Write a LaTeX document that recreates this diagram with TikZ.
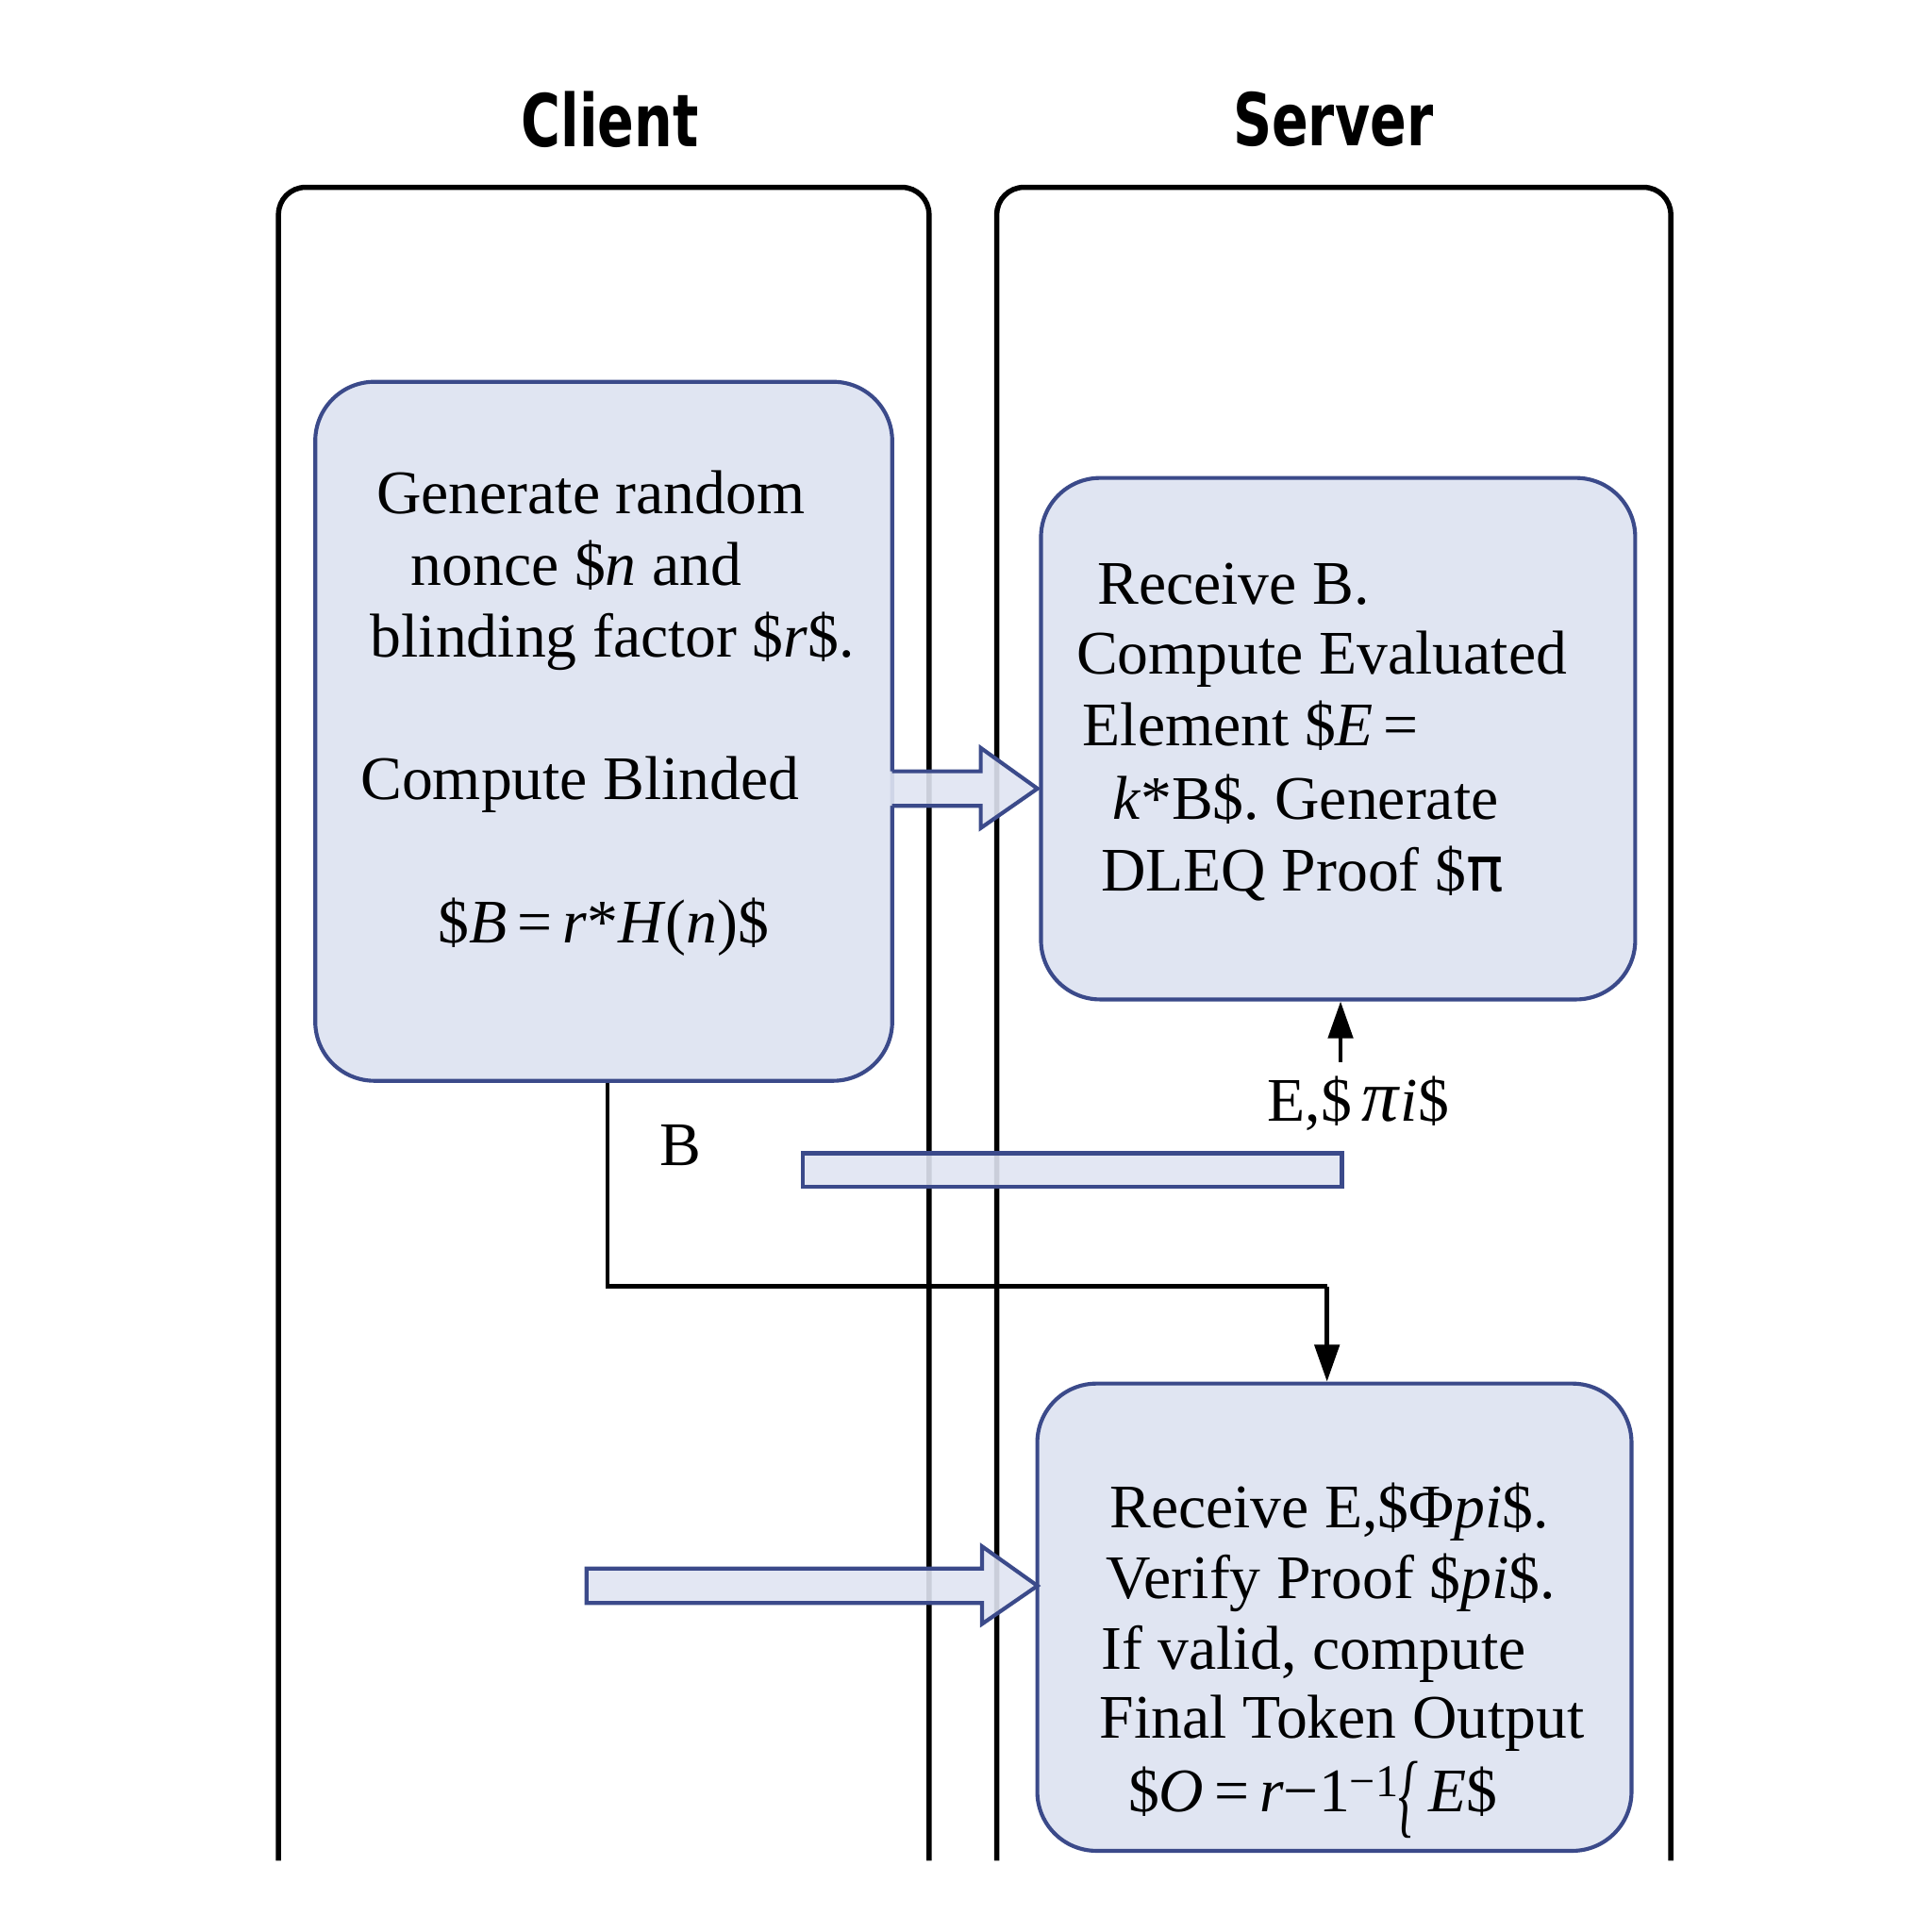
\documentclass[tikz,border=0pt]{standalone}
\usepackage{fontspec}
\usepackage{graphicx}
\setmainfont{Liberation Serif}
\newfontfamily\titlefont{DejaVu Sans}
\usetikzlibrary{arrows.meta}
\definecolor{boxfill}{HTML}{E0E5F2}
\definecolor{boxline}{HTML}{3B4A8A}
\frenchspacing
\begin{document}
\begin{tikzpicture}[x=0.01cm,y=-0.01cm,
  lane/.style={line width=1.2pt, rounded corners=0.22cm},
  stepbox/.style={draw=boxline, fill=boxfill, line width=0.9pt, rounded corners=0.48cm, inner sep=0pt},
  txt/.style={anchor=base west, inner sep=0pt, font=\fontsize{14.3}{17}\selectfont},
  title/.style={inner sep=0pt, font=\titlefont\bfseries\fontsize{16.8}{20}\selectfont},
  flowfill/.style={fill=boxfill, fill opacity=0.9},
  flowline/.style={draw=boxline, line width=0.9pt, line join=miter},
  conn/.style={line width=1pt, -{Triangle[length=0.3cm,width=0.2cm]}}
]
\useasboundingbox (0,0) rectangle (1568,1568);
\fill[white] (0,0) rectangle (1568,1568);

% titles
\node[title] (tclient) at (495,97) {\scalebox{0.74}[1]{Client}};
\node[title] (tserver) at (1082,97) {\scalebox{0.74}[1]{Server}};

% lanes
\draw[lane] (226,1510) -- (226,152) -- (754,152) -- (754,1510);
\draw[lane] (809,1510) -- (809,152) -- (1356,152) -- (1356,1510);

% boxes
\node[stepbox, minimum width=4.68cm, minimum height=5.67cm] (b1) at (490,593.5) {};
\node[stepbox, minimum width=4.82cm, minimum height=4.23cm] (b2) at (1086,599.5) {};
\node[stepbox, minimum width=4.82cm, minimum height=3.79cm] (b3) at (1083,1312.5) {};

% box 1 text
\node[txt] (t1a) at (305,417) {Generate random};
\node[txt] (t1b) at (333,475) {nonce \$\textit{n} and};
\node[txt] (t1c) at (300,533) {blinding factor \$\textit{r}\$.};
\node[txt] (t1d) at (292,649) {Compute Blinded};
\node[txt] (t1e) at (355,765) {\$\textit{B}\,=\,\textit{r}*\textit{H}(\textit{n})\$};

% box 2 text
\node[txt] (t2a) at (890,490) {Receive B.};
\node[txt] (t2b) at (873,547) {Compute Evaluated};
\node[txt] (t2c) at (878,605) {Element \$\textit{E}\,=};
\node[txt] (t2d) at (902,665) {\textit{k}*B\$. Generate};
\node[txt] (t2e) at (893,723) {DLEQ Proof \${\titlefont π}};

% box 3 text
\node[txt] (t3a) at (900,1240) {Receive E,\$Φ\textit{pi}\$.};
\node[txt] (t3b) at (897,1297) {Verify Proof \$\textit{pi}\$.};
\node[txt] (t3c) at (893,1355) {If valid, compute};
\node[txt] (t3d) at (892,1411) {Final Token Output};
\node[txt] (t3e) at (915,1470) {\$\textit{O}\,=\,\textit{r}−1\raisebox{0.5ex}{\fontsize{10.5}{12}\selectfont −1}\raisebox{-0.12cm}{\scalebox{0.8}[1.5]{\textit{\{}}}\,\textit{E}\$};

% block arrow 1 (client box -> server box)
\fill[flowfill] (722,626) -- (796,626) -- (796,607) -- (842,640) -- (796,672) -- (796,654) -- (722,654) -- cycle;
\draw[flowline] (724,626) -- (796,626) -- (796,607) -- (842,640) -- (796,672) -- (796,654) -- (724,654);

% bar
\node[flowfill, flowline, minimum width=4.37cm, minimum height=0.27cm, inner sep=0pt] (bar) at (870.5,949.5) {};

% E, pi label and arrow up
\node[txt] (lblE) at (1028,910) {E,\$\,{\fontsize{17}{17}\selectfont\textit{π}}\textit{i}\$};
\coordinate (eTail) at (1088,862);
\draw[conn] (eTail) -- (eTail |- b2.south);

% B connector
\node[txt] (lblB) at (535,946) {B};
\coordinate (bturn) at (1077,1044);
\draw[line width=1pt] ([xshift=0.03cm]b1.south) |- (bturn);
\draw[conn] (bturn) -- (bturn |- b3.north);

% block arrow 2
\fill[flowfill] (476,1273) -- (797,1273) -- (797,1255) -- (842,1287) -- (797,1318) -- (797,1301) -- (476,1301) -- cycle;
\draw[flowline] (476,1273) -- (797,1273) -- (797,1255) -- (842,1287) -- (797,1318) -- (797,1301) -- (476,1301) -- cycle;
\end{tikzpicture}
\end{document}
